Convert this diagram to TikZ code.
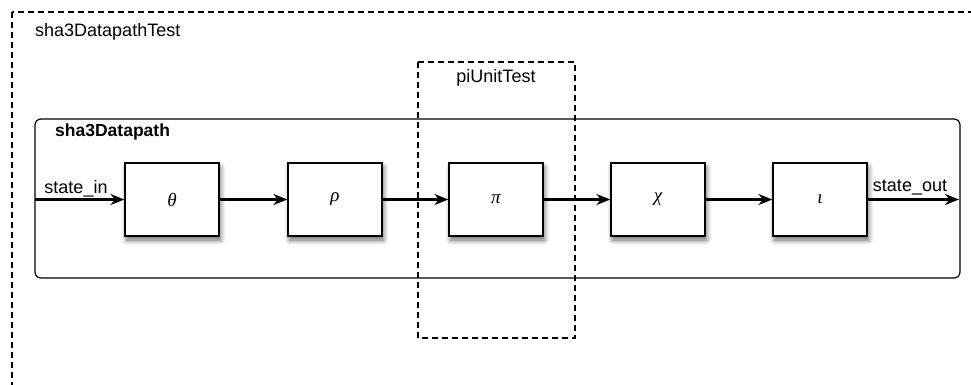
\documentclass[tikz,border=0pt]{standalone}
\usepackage{fontspec}
\setmainfont{Liberation Sans}
\newfontfamily\greekfont{Liberation Serif}
\usetikzlibrary{arrows.meta,shadows.blur,positioning}

\tikzset{
  stage/.style={draw, line width=1.2pt, fill=white, minimum width=94pt, minimum height=73pt,
    inner sep=0pt, font=\greekfont\itshape\fontsize{19}{22}\selectfont,
    blur shadow={shadow xshift=1.5pt, shadow yshift=-4pt, shadow blur steps=8, shadow blur radius=5pt, shadow opacity=60}},
  flow/.style={line width=2.4pt, -{Stealth[length=14pt, width=11pt, inset=4.5pt]}},
  testbox/.style={draw, dashed, line width=1.2pt, dash pattern=on 6pt off 4pt},
  lbl/.style={font=\fontsize{18}{21}\selectfont, inner sep=0pt},
}

\begin{document}
\begin{tikzpicture}[x=1pt, y=-1pt]
  \useasboundingbox (0,0) rectangle (971,385);
  \clip (0,0) rectangle (971,385);

  % outer test harness (runs past the page edge)
  \draw[testbox] (12,12) rectangle (1000,420);
  \node[lbl, anchor=base west] (tlbl) at (35,37) {sha3DatapathTest};

  % datapath container
  \draw[line width=1.2pt, rounded corners=6pt] (35,119) rectangle (960,278);
  \node[lbl, anchor=base west, font=\fontsize{17.5}{20}\selectfont\bfseries] (dlbl) at (55,136) {sha3Datapath};

  % permutation stages
  \node[stage] (theta) at (172,199.5) {θ};
  \node[stage] (rho)   at (335,199.5) {ρ};
  \node[stage] (pi)    at (496,199.5) {π};
  \node[stage] (chi)   at (658,199.5) {χ};
  \node[stage] (iota)  at (820,199.5) {ι};

  % pi unit test boundary
  \draw[testbox] (418,62) rectangle (575,338);
  \node[lbl, anchor=base] (plbl) at (496,83) {piUnitTest};

  % dataflow
  \coordinate (in)  at (35,199.5);
  \coordinate (out) at (959,199.5);
  \draw[flow] (in) -- (theta.west);
  \draw[flow] (theta.east) -- (rho.west);
  \draw[flow] (rho.east) -- (pi.west);
  \draw[flow] (pi.east) -- (chi.west);
  \draw[flow] (chi.east) -- (iota.west);
  \draw[flow] (iota.east) -- (out);

  \node[lbl, anchor=base] (inlbl)  at (76,193) {state\_in};
  \node[lbl, anchor=base] (outlbl) at (910,191) {state\_out};
\end{tikzpicture}
\end{document}
